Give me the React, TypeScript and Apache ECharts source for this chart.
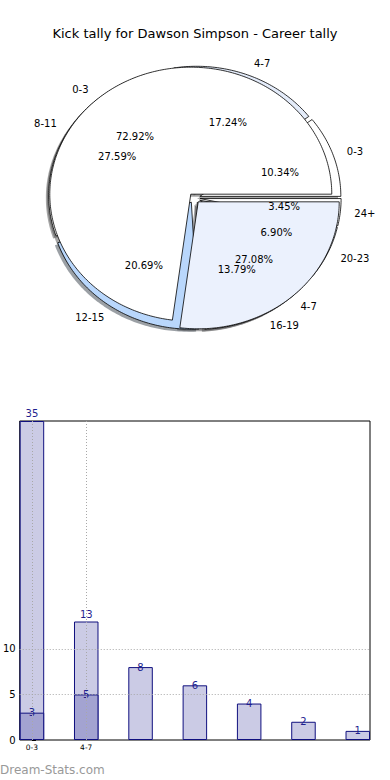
import React, { useEffect, useRef } from "react";
import * as echarts from "echarts";

// ---- data ----
const titleText = "Kick tally for Dawson Simpson - Career tally";
const categories = ["0-3", "4-7", "8-11", "12-15", "16-19", "20-23", "24+"];
const totalValues = [35, 13, 8, 6, 4, 2, 1];
const subsetValues = [3, 5];
// inner pie (drawn on top): totals of first two bins
const innerCats = ["0-3", "4-7"];
const innerValues = [35, 13];
// outer pie: subset of first two bins + totals of the rest
const outerCats = ["0-3", "4-7", "8-11", "12-15", "16-19", "20-23", "24+"];
const outerValues = [3, 5, 8, 6, 4, 2, 1];
const yTickValues = [0, 5, 10];
const xTickValues = [0, 1];

// ---- styles ----
const FONT = '"DejaVu Sans", Verdana, sans-serif';
const innerColors = ["#ffffff", "#ebf1fd"];
const outerColors = ["#ffffff", "#e4ecfa", "#ffffff", "#b9d7fc", "#ffffff", "#ebf1fd", "#ffffff"];
const EXPLODE = 0.04;
const SHADOW_OFF = -0.02;

type Wedge = { a0: number; a1: number; frac: number; label: string; color: string };

function buildWedges(values: number[], cats: string[], colors: string[]): Wedge[] {
  const total = values.reduce((a, b) => a + b, 0);
  let acc = 0;
  return values.map((v, i) => {
    const a0 = (acc / total) * 360;
    acc += v;
    const a1 = (acc / total) * 360;
    return { a0, a1, frac: v / total, label: cats[i], color: colors[i % colors.length] };
  });
}

const outerWedges = buildWedges(outerValues, outerCats, outerColors);
const innerWedges = buildWedges(innerValues, innerCats, innerColors);
const allWedges = [...outerWedges, ...innerWedges];

function wedgePts(w: Wedge, dx: number, dy: number): number[][] {
  const mid = ((w.a0 + w.a1) / 2) * Math.PI / 180;
  const ox = EXPLODE * Math.cos(mid) + dx;
  const oy = EXPLODE * Math.sin(mid) + dy;
  const pts: number[][] = [[ox, oy]];
  const n = Math.max(2, Math.ceil(w.a1 - w.a0));
  for (let k = 0; k <= n; k++) {
    const a = (w.a0 + ((w.a1 - w.a0) * k) / n) * Math.PI / 180;
    pts.push([ox + Math.cos(a), oy + Math.sin(a)]);
  }
  return pts;
}

function darker(hex: string): string {
  const r = parseInt(hex.slice(1, 3), 16) * 0.3;
  const g = parseInt(hex.slice(3, 5), 16) * 0.3;
  const b = parseInt(hex.slice(5, 7), 16) * 0.3;
  return `rgba(${Math.round(r)},${Math.round(g)},${Math.round(b)},0.5)`;
}

export default function App() {
  const ref = useRef<HTMLDivElement>(null);
  useEffect(() => {
    if (!ref.current) return;
    const chart = echarts.init(ref.current, undefined, { renderer: "svg" });

    const wedgeSeries = (name: string, wedges: Wedge[], z: number, shadow: boolean) => ({
      name,
      type: "custom",
      coordinateSystem: "cartesian2d",
      xAxisIndex: 0,
      yAxisIndex: 0,
      z,
      silent: true,
      data: wedges.map((w, i) => [i, w.frac]),
      renderItem: (params: any, api: any) => {
        const w = wedges[params.dataIndex];
        const pts = shadow
          ? wedgePts(w, SHADOW_OFF, SHADOW_OFF)
          : wedgePts(w, 0, 0);
        return {
          type: "polygon",
          shape: { points: pts.map((p) => api.coord(p)) },
          style: shadow
            ? { fill: darker(w.color), stroke: "none" }
            : { fill: w.color, stroke: "#000000", lineWidth: 0.8 },
        };
      },
    });

    const labelSeries = {
      name: "pieLabels",
      type: "custom",
      coordinateSystem: "cartesian2d",
      xAxisIndex: 0,
      yAxisIndex: 0,
      z: 10,
      silent: true,
      data: allWedges.map((w, i) => [i, w.frac]),
      renderItem: (params: any, api: any) => {
        const w = allWedges[params.dataIndex];
        const mid = ((w.a0 + w.a1) / 2) * Math.PI / 180;
        const c = Math.cos(mid);
        const s = Math.sin(mid);
        const lp = api.coord([(EXPLODE + 1.1) * c, (EXPLODE + 1.1) * s]);
        const pp = api.coord([(EXPLODE + 0.6) * c, (EXPLODE + 0.6) * s]);
        return {
          type: "group",
          children: [
            {
              type: "text",
              x: lp[0],
              y: lp[1],
              style: {
                text: w.label,
                fill: "#000",
                font: `10px ${FONT}`,
                align: c > 0 ? "left" : "right",
                verticalAlign: "middle",
              },
            },
            {
              type: "text",
              x: pp[0],
              y: pp[1],
              style: {
                text: (w.frac * 100).toFixed(2) + "%",
                fill: "#000",
                font: `10px ${FONT}`,
                align: "center",
                verticalAlign: "middle",
              },
            },
          ],
        };
      },
    };

    const labelColor = "#1f1f8f";
    const option: any = {
      animation: false,
      title: {
        text: titleText,
        left: "center",
        top: 22,
        textStyle: { fontSize: 13, fontWeight: "normal", color: "#000", fontFamily: FONT },
      },
      grid: [
        { left: 25.3, top: 45.6, width: 338.4, height: 304.8, show: false },
        {
          left: 19, top: 421, width: 351, height: 319, show: true,
          borderColor: "#000", borderWidth: 1, backgroundColor: "transparent",
        },
      ],
      xAxis: [
        { gridIndex: 0, type: "value", min: -1.2, max: 1.2, show: false },
        {
          gridIndex: 1, type: "value", min: -0.225, max: 6.225,
          axisLine: { show: false },
          splitLine: { show: false },
          axisTick: { show: true, customValues: xTickValues, inside: true, length: 4, lineStyle: { color: "#000" } },
          axisLabel: {
            customValues: xTickValues,
            formatter: (v: number) => categories[Math.round(v)] ?? "",
            fontSize: 7.5, color: "#000", margin: 3, fontFamily: FONT,
          },
        },
      ],
      yAxis: [
        { gridIndex: 0, type: "value", min: -1.2, max: 1.2, show: false },
        {
          gridIndex: 1, type: "value", min: 0, max: 35, interval: 5,
          axisLine: { show: false },
          splitLine: { show: false },
          axisTick: { show: true, customValues: yTickValues, inside: true, length: 4, lineStyle: { color: "#000" } },
          axisLabel: { customValues: yTickValues, fontSize: 10, color: "#000", margin: 4, fontFamily: FONT },
        },
      ],
      graphic: [
        {
          type: "text", left: 0, top: 764,
          style: { text: "Dream-Stats.com", fill: "#999999", font: `12px ${FONT}` },
        },
      ],
      series: [
        wedgeSeries("shadows", allWedges, 1, true),
        wedgeSeries("outerPie", outerWedges, 2, false),
        wedgeSeries("innerPie", innerWedges, 3, false),
        labelSeries,
        {
          name: "total",
          type: "bar",
          xAxisIndex: 1,
          yAxisIndex: 1,
          barWidth: 24.5,
          barGap: "-100%",
          z: 2,
          data: totalValues.map((v, i) => ({
            value: [i, v],
            label: { distance: i < 2 ? 2.5 : -5 },
          })),
          itemStyle: { color: "#cbcbe5", borderColor: "#10107f", borderWidth: 1 },
          label: { show: true, position: "top", color: labelColor, fontSize: 10, fontFamily: FONT },
          markLine: {
            silent: true,
            symbol: "none",
            label: { show: false },
            lineStyle: { type: [1, 2], color: "#a8a8a8", width: 1 },
            data: [
              { xAxis: xTickValues[0] },
              { xAxis: xTickValues[1] },
              { yAxis: yTickValues[1] },
              { yAxis: yTickValues[2] },
            ],
          },
        },
        {
          name: "subset",
          type: "bar",
          xAxisIndex: 1,
          yAxisIndex: 1,
          barWidth: 24.5,
          barGap: "-100%",
          z: 3,
          data: subsetValues.map((v, i) => [i, v]),
          itemStyle: { color: "#a3a3d1", borderColor: "#10107f", borderWidth: 1 },
          label: { show: true, position: "top", distance: -5, color: labelColor, fontSize: 10, fontFamily: FONT },
        },
      ],
    };
    chart.setOption(option);
    return () => chart.dispose();
  }, []);

  return (
    <div
      ref={ref}
      style={{ position: "fixed", left: 0, top: 0, width: 390, height: 780, background: "#fff" }}
    />
  );
}
